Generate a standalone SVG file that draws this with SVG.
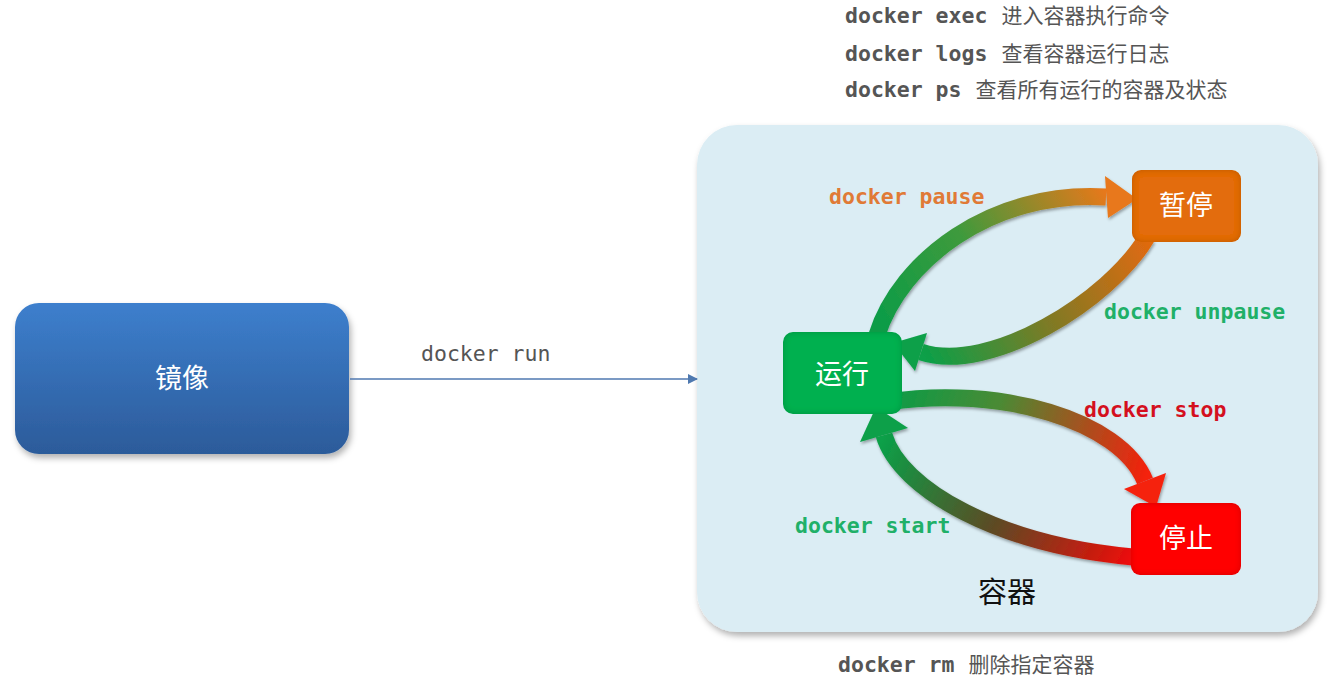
<svg xmlns="http://www.w3.org/2000/svg" width="1342" height="679" viewBox="0 0 1342 679">
<defs>
<style>
.cmd{font-family:"DejaVu Sans Mono","Liberation Mono",monospace;font-weight:bold;font-size:21.5px}
.zh{font-family:"Noto Sans CJK SC","Noto Sans",sans-serif;font-size:21px;fill:#555}
.gray{fill:#555}
.node-t{font-family:"Noto Sans CJK SC","Noto Sans",sans-serif;font-size:27px;fill:#fff;text-anchor:middle}
.arr{fill:none;stroke-width:17;stroke-linecap:butt}
</style>
<linearGradient id="gImg" x1="0" y1="0" x2="0" y2="1">
<stop offset="0" stop-color="#3d7fcd"/><stop offset="1" stop-color="#2c5b9a"/>
</linearGradient>
<linearGradient id="gA1" gradientUnits="userSpaceOnUse" x1="880" y1="335" x2="1110" y2="197">
<stop offset="0" stop-color="#0a9c47"/><stop offset="0.45" stop-color="#3e9a3c"/><stop offset="1" stop-color="#e8781a"/>
</linearGradient>
<linearGradient id="gA2" gradientUnits="userSpaceOnUse" x1="1147" y1="237" x2="921" y2="352">
<stop offset="0" stop-color="#e06a10"/><stop offset="0.5" stop-color="#7e7a25"/><stop offset="1" stop-color="#0aa048"/>
</linearGradient>
<linearGradient id="gA3" gradientUnits="userSpaceOnUse" x1="888" y1="402" x2="1145" y2="481">
<stop offset="0" stop-color="#0a9c47"/><stop offset="0.4" stop-color="#4b8a34"/><stop offset="1" stop-color="#f5200c"/>
</linearGradient>
<linearGradient id="gA4" gradientUnits="userSpaceOnUse" x1="1133" y1="557" x2="884" y2="435">
<stop offset="0" stop-color="#ee0c08"/><stop offset="0.5" stop-color="#5d4a24"/><stop offset="1" stop-color="#0aa048"/>
</linearGradient>
<filter id="shadow" x="-10%" y="-10%" width="120%" height="125%">
<feDropShadow dx="2" dy="4" stdDeviation="3" flood-color="#000" flood-opacity="0.3"/>
</filter>
<filter id="ashadow" x="-10%" y="-10%" width="120%" height="130%">
<feDropShadow dx="1" dy="2" stdDeviation="1.5" flood-color="#000" flood-opacity="0.35"/>
</filter>
<filter id="bevel" x="-10%" y="-10%" width="120%" height="125%">
<feGaussianBlur in="SourceAlpha" stdDeviation="3" result="b"/>
<feComposite in="SourceAlpha" in2="b" operator="arithmetic" k2="1" k3="-1" result="edge"/>
<feFlood flood-color="#000" flood-opacity="0.35"/>
<feComposite in2="edge" operator="in" result="sh"/>
<feMerge><feMergeNode in="SourceGraphic"/><feMergeNode in="sh"/></feMerge>
</filter>
<marker id="tri" markerWidth="10" markerHeight="10" refX="9" refY="5" orient="auto" markerUnits="userSpaceOnUse">
<path d="M0,0 L10,5 L0,10 z" fill="#4f79b0"/>
</marker>
</defs>
<rect width="1342" height="679" fill="#fff"/>

<g id="container">
<rect x="697" y="125" width="621" height="507" rx="40" fill="#dbedf4" filter="url(#shadow)"/>
<text x="1007" y="603" text-anchor="middle" font-family="'Noto Sans CJK SC','Noto Sans',sans-serif" font-size="29" fill="#111">容器</text>
</g>

<g id="image">
<rect x="15" y="303" width="334" height="151" rx="24" fill="url(#gImg)" filter="url(#shadow)"/>
<text class="node-t" x="182" y="388">镜像</text>
</g>

<g id="connectors">
<line x1="350" y1="379" x2="697" y2="379" stroke="#4f79b0" stroke-width="1.3" marker-end="url(#tri)"/>
<g filter="url(#ashadow)">
<path class="arr" d="M 877 335 C 900 262, 990 190, 1106 197" stroke="url(#gA1)"/>
<polygon points="1137,199 1105,176 1108,218" fill="#e8781a"/>
<path class="arr" d="M 1147 237 C 1110 300, 990 375, 921 352" stroke="url(#gA2)"/>
<polygon points="893,343 927,333 915,371" fill="#0aa048"/>
<path class="arr" d="M 888 402 C 1000 385, 1120 420, 1145 481" stroke="url(#gA3)"/>
<polygon points="1156,507 1166,473 1124,489" fill="#f5200c"/>
<path class="arr" d="M 1133 557 C 1000 545, 900 490, 884 435" stroke="url(#gA4)"/>
<polygon points="876,407 908,428 860,442" fill="#0aa048"/>
</g>
<text class="cmd" x="421" y="361" style="font-weight:normal" fill="#555">docker run</text>
<text class="cmd" x="829" y="204" fill="#e07a36">docker pause</text>
<text class="cmd" x="1104" y="319" fill="#20b068">docker unpause</text>
<text class="cmd" x="1084" y="417" fill="#d4101e">docker stop</text>
<text class="cmd" x="795" y="533" fill="#20b068">docker start</text>
</g>

<g id="running">
<rect x="783" y="332" width="119" height="82" rx="10" fill="#00b050" filter="url(#bevel)"/>
<text class="node-t" x="842" y="384">运行</text>
</g>
<g id="paused">
<rect x="1132" y="170" width="109" height="72" rx="9" fill="#e36c0a" filter="url(#bevel)"/>
<text class="node-t" x="1186" y="215">暂停</text>
</g>
<g id="stopped">
<rect x="1131" y="503" width="110" height="72" rx="9" fill="#ff0000" filter="url(#bevel)"/>
<text class="node-t" x="1186" y="548">停止</text>
</g>

<g id="notes">
<text x="845" y="23"><tspan class="cmd gray">docker exec</tspan><tspan class="zh" dx="14">进入容器执行命令</tspan></text>
<text x="845" y="61"><tspan class="cmd gray">docker logs</tspan><tspan class="zh" dx="14">查看容器运行日志</tspan></text>
<text x="845" y="97"><tspan class="cmd gray">docker ps</tspan><tspan class="zh" dx="14">查看所有运行的容器及状态</tspan></text>
<text x="838" y="672"><tspan class="cmd gray">docker rm</tspan><tspan class="zh" dx="14">删除指定容器</tspan></text>
</g>
</svg>
